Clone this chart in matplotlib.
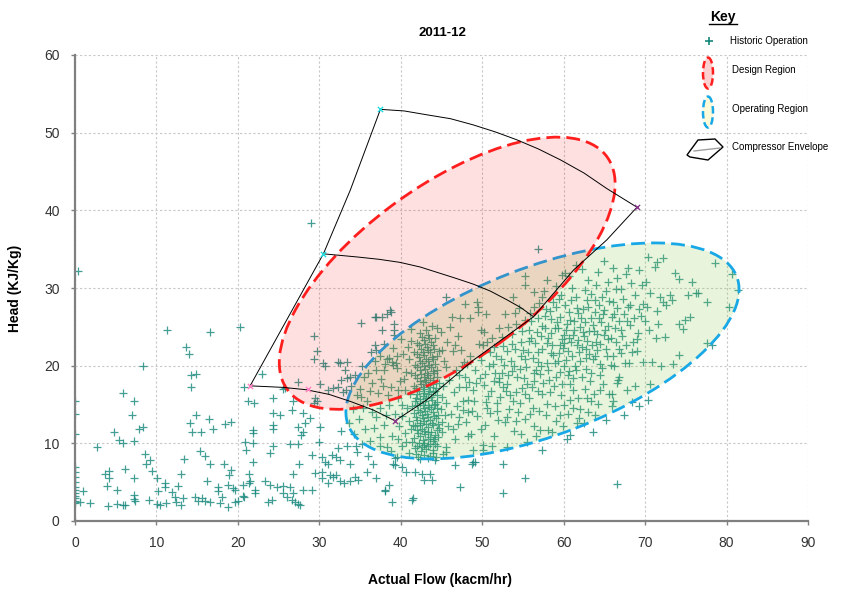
import numpy as np
import matplotlib
matplotlib.use("Agg")
import matplotlib.pyplot as plt
from matplotlib.patches import Ellipse, Polygon

plt.rcParams['font.family'] = ['Liberation Sans', 'DejaVu Sans']

TITLE = "2011-12"
X_LABEL = "Actual Flow (kacm/hr)"
Y_LABEL = "Head (KJ/Kg)"
X_TICKS = [0, 10, 20, 30, 40, 50, 60, 70, 80, 90]
Y_TICKS = [0, 10, 20, 30, 40, 50, 60]

KEY_LABELS = ["Historic Operation", "Design Region", "Operating Region", "Compressor Envelope"]

# historic operation points (flow, head)
low_flow = [
    (0.0, 0.0), (0.0, 2.3), (0.0, 2.6), (0.0, 2.9), (0.0, 3.2), (0.0, 3.6), (0.0, 4.0), (0.0, 4.4),
    (0.0, 5.0), (0.0, 5.7), (0.0, 6.3), (0.0, 7.0), (0.0, 11.2), (0.0, 13.8), (0.0, 15.5),
    (0.4, 32.2), (0.6, 2.4), (1.0, 3.8), (1.9, 2.3), (2.7, 9.5),
    (3.7, 6.1), (4.2, 6.5), (4.2, 5.5), (3.9, 4.5), (4.1, 1.9), (4.8, 11.4), (5.1, 2.2), (5.2, 4.0),
    (5.4, 10.4), (5.9, 10.0), (5.9, 2.0), (5.9, 16.5), (6.1, 2.0), (6.1, 6.7),
    (7.0, 13.7), (7.2, 10.3), (7.2, 5.6), (7.2, 3.3), (7.2, 2.8), (7.3, 15.4), (7.4, 2.6), (7.8, 11.9),
    (8.3, 20.0), (8.4, 12.1), (8.6, 8.6), (8.7, 7.4), (9.1, 2.7), (9.2, 7.9), (9.5, 6.4),
    (10.1, 5.6), (10.1, 2.2), (10.2, 3.8), (10.4, 2.0), (11.0, 4.4), (11.1, 4.9), (11.2, 2.3),
    (11.3, 24.6), (11.9, 3.7), (12.3, 3.1), (12.4, 2.4), (12.7, 4.5), (13.0, 6.1), (13.0, 2.0),
    (13.2, 2.9), (13.4, 8.0), (13.6, 22.4), (14.0, 21.5),
    (14.1, 12.6), (14.2, 17.3), (14.3, 18.8), (14.4, 11.4), (14.7, 3.1), (14.9, 18.9), (14.9, 13.6),
    (15.1, 2.6), (15.4, 9.0), (15.5, 11.5), (15.6, 2.9), (16.0, 8.4), (16.0, 2.6), (16.2, 5.2),
    (16.4, 13.1), (16.6, 24.3), (16.6, 7.4), (16.6, 2.5),
    (17.0, 11.8), (17.5, 4.4), (17.6, 3.9), (17.8, 2.3), (18.1, 3.1), (18.3, 7.4), (18.4, 12.5),
    (18.8, 1.8), (18.8, 4.6), (18.9, 5.9), (19.2, 12.7), (19.2, 6.6), (19.4, 4.2), (19.6, 4.0),
    (19.7, 2.4), (20.0, 2.6),
    (20.3, 25.0), (20.6, 3.2), (20.6, 4.6), (20.7, 3.1), (20.8, 17.2), (20.9, 10.2), (21.0, 9.1),
    (21.2, 15.5), (21.4, 6.1), (21.4, 4.9), (21.5, 5.1), (21.8, 11.7), (21.8, 11.3), (21.9, 10.0),
    (21.9, 7.6), (22.0, 15.2), (22.1, 4.0), (22.1, 3.6), (22.9, 18.9),
    (23.3, 5.1), (23.7, 2.5), (23.9, 4.6), (24.0, 8.7), (24.2, 2.7), (24.3, 15.9), (24.3, 13.9),
    (24.3, 12.4), (24.3, 11.9), (24.3, 9.7), (24.8, 4.4), (25.2, 13.6), (25.6, 17.0), (25.6, 4.5),
    (25.6, 3.6), (25.8, 17.1), (26.0, 3.1), (26.4, 9.9), (26.4, 4.4), (26.6, 14.3), (26.6, 2.7),
    (26.8, 15.5), (26.8, 6.1), (26.8, 3.6), (27.0, 2.5),
    (27.4, 17.9), (27.4, 12.1), (27.4, 9.9), (27.4, 2.2), (27.5, 7.4), (27.6, 2.1), (27.8, 11.1),
    (28.0, 13.9), (28.0, 11.5), (28.0, 4.0), (28.2, 12.6), (28.9, 13.2), (29.0, 38.4), (29.1, 8.5),
    (29.1, 4.0), (29.3, 23.8), (29.3, 20.8), (29.3, 15.2), (29.5, 15.8), (29.5, 6.2), (29.7, 21.9),
    (29.7, 15.4), (29.9, 10.2),
    (30.1, 17.7), (30.1, 12.1), (30.3, 8.3), (30.3, 6.3), (30.3, 5.5), (30.5, 20.3), (30.7, 20.0),
    (30.7, 7.6), (31.1, 16.9), (31.1, 7.4), (31.1, 4.9), (31.3, 5.9), (31.5, 8.5), (31.7, 17.1),
    (31.7, 5.7), (32.1, 8.3), (32.1, 5.9), (32.3, 20.5), (32.3, 17.3), (32.3, 9.4), (32.5, 20.3),
    (32.5, 7.9), (32.5, 5.1), (32.7, 18.2), (32.7, 11.6), (32.9, 16.6), (33.0, 4.9), (33.2, 19.4),
    (33.3, 16.9), (33.4, 20.5), (33.4, 18.4), (33.4, 9.6), (33.8, 18.6), (33.8, 7.4), (33.8, 5.1),
    (34.4, 5.7), (34.5, 9.6), (34.6, 8.9), (34.8, 5.3), (35.1, 25.5), (35.8, 6.3), (36.6, 7.4),
    (36.8, 26.3), (36.8, 22.7), (37.0, 26.3), (37.0, 22.0), (37.0, 5.5), (37.4, 21.2), (37.7, 26.3),
    (37.7, 24.6), (38.1, 3.8), (38.3, 20.9), (38.3, 26.7), (38.5, 4.6), (38.1, 4.0), (38.7, 27.2),
    (38.8, 26.9), (38.9, 20.5), (38.9, 2.5), (39.1, 20.1), (39.1, 7.4), (39.2, 25.4), (39.2, 24.6),
    (39.3, 8.1), (39.3, 7.2), (39.5, 19.7), (40.1, 7.0), (40.7, 6.3), (41.4, 2.7), (41.5, 2.9),
    (41.7, 6.3), (42.6, 6.1), (42.8, 5.3), (43.6, 6.1), (43.8, 5.3),
]

dense_column = [
    (42.1, 8.2), (42.8, 8.5), (43.3, 8.1), (43.9, 8.7), (42.5, 9.0), (43.1, 9.3), (44.0, 9.1), (41.8, 9.4),
    (42.9, 9.8), (43.6, 9.9), (44.4, 9.6), (42.2, 10.1), (42.7, 10.4), (43.3, 10.6), (43.9, 10.3),
    (44.6, 10.8), (41.6, 10.7), (42.4, 11.0), (43.0, 11.2), (43.7, 11.5), (44.2, 11.1), (45.0, 11.4),
    (42.0, 11.7), (42.6, 11.9), (43.4, 12.1), (44.0, 12.3), (44.7, 12.0), (41.5, 12.4), (42.3, 12.6),
    (42.9, 12.9), (43.6, 13.0), (44.3, 13.2), (45.1, 12.8), (41.9, 13.4), (42.6, 13.6), (43.2, 13.8),
    (43.9, 14.0), (44.6, 13.7), (42.1, 14.3), (42.8, 14.5), (43.5, 14.7), (44.1, 14.9), (44.9, 14.4),
    (41.4, 14.8), (42.4, 15.2), (43.0, 15.4), (43.8, 15.6), (44.5, 15.3), (41.9, 15.9), (42.7, 16.1),
    (43.3, 16.3), (44.0, 16.6), (45.0, 16.0), (42.2, 16.8), (42.9, 17.0), (43.6, 17.3), (44.3, 17.1),
    (41.6, 17.4), (42.5, 17.7), (43.1, 17.9), (43.9, 18.1), (44.7, 17.8), (42.0, 18.4), (42.8, 18.6),
    (43.4, 18.8), (44.1, 19.0), (41.3, 19.1), (42.3, 19.4), (43.0, 19.6), (43.7, 19.8), (44.5, 19.5),
    (41.8, 20.1), (42.6, 20.3), (43.3, 20.6), (44.0, 20.8), (42.2, 21.1), (42.9, 21.4), (43.6, 21.7),
    (44.4, 21.3), (41.6, 21.8), (42.5, 22.2), (43.2, 22.4), (43.9, 22.7), (42.0, 22.9), (42.8, 23.3),
    (43.5, 23.6), (42.4, 24.2), (43.1, 24.6), (43.8, 25.1), (42.7, 25.6),
    (40.2, 13.5), (40.8, 14.6), (39.6, 15.8), (40.5, 16.9), (39.9, 18.0), (40.7, 19.2), (39.4, 20.4),
    (40.3, 21.5), (39.0, 22.3), (40.0, 23.4), (38.5, 21.0), (38.0, 19.5), (37.6, 18.3), (38.8, 17.2),
    (37.2, 16.5), (36.5, 17.8), (36.0, 19.0), (36.8, 20.6), (35.5, 18.5), (35.0, 17.0), (34.6, 16.2),
    (35.8, 15.4), (37.4, 14.6), (38.6, 15.0), (36.4, 21.8), (37.9, 22.8), (39.2, 24.0), (35.2, 20.0),
    (34.4, 18.8), (45.5, 9.5), (45.8, 12.2), (46.2, 13.8), (45.6, 15.2), (46.5, 16.6), (45.9, 18.2),
    (46.8, 19.4), (45.3, 20.6), (46.4, 21.9), (45.7, 23.0), (44.9, 24.3), (46.0, 25.0), (47.0, 23.8),
    (47.4, 22.0), (47.8, 20.5), (47.2, 18.8), (48.0, 17.2), (47.6, 15.5), (48.3, 14.0), (47.0, 12.5),
    (46.6, 10.6), (45.2, 8.6), (44.2, 7.8), (41.0, 8.8), (40.6, 10.2), (41.2, 11.8), (39.8, 12.2),
    (38.9, 11.0), (40.1, 9.6), (39.5, 8.3), (38.3, 9.5), (37.5, 10.8), (36.7, 12.0), (36.2, 10.3),
    (35.6, 11.8), (37.0, 13.4),
]

dense_column_2 = [
    (41.9, 8.6), (42.4, 8.0), (43.6, 8.4), (44.3, 8.3), (42.0, 9.7), (42.6, 9.5), (43.4, 9.6), (44.2, 9.9),
    (41.4, 10.2), (42.9, 10.1), (43.6, 10.8), (44.1, 10.6), (42.1, 11.3), (42.8, 11.6), (43.4, 11.4),
    (44.5, 11.7), (41.8, 12.2), (42.4, 12.3), (43.1, 12.5), (43.8, 12.6), (44.6, 12.5), (42.0, 13.0),
    (42.7, 13.2), (43.4, 13.4), (44.1, 13.5), (41.6, 13.9), (42.4, 14.0), (43.0, 14.2), (43.7, 14.4),
    (44.4, 14.6), (42.0, 14.9), (42.7, 15.0), (43.3, 14.9), (44.2, 15.1), (41.7, 15.5), (42.3, 15.7),
    (43.1, 15.9), (43.7, 16.0), (44.5, 16.2), (42.0, 16.4), (42.8, 16.5), (43.5, 16.7), (44.2, 16.8),
    (41.9, 17.1), (42.7, 17.3), (43.3, 17.5), (44.0, 17.6), (42.3, 18.0), (43.0, 18.2), (43.6, 18.4),
    (44.4, 18.5), (41.7, 18.8), (42.5, 18.9), (43.2, 19.1), (43.9, 19.3), (42.0, 19.8), (42.8, 19.9),
    (43.5, 20.1), (44.2, 20.2), (42.4, 20.6), (43.1, 20.9), (43.8, 21.1), (42.0, 21.5), (42.7, 21.8),
    (43.4, 22.0), (44.1, 22.1), (42.2, 22.6), (43.0, 22.8), (43.7, 23.1), (42.6, 23.7), (43.3, 24.0),
    (44.2, 23.6), (41.2, 23.2), (41.0, 20.8), (41.1, 16.3), (45.4, 13.6), (45.2, 17.4), (45.6, 19.8),
    (45.0, 22.0), (44.7, 21.9), (40.4, 18.3), (40.9, 22.4), (41.3, 24.7), (44.5, 24.9), (39.7, 16.9),
    (40.2, 14.9), (41.0, 12.9), (40.5, 11.3), (39.3, 13.8), (38.4, 16.2), (37.8, 17.4), (38.1, 20.2),
    (39.5, 21.2), (36.9, 19.4), (36.2, 16.8), (35.4, 14.5), (34.9, 13.1), (36.5, 14.0), (37.9, 12.4),
    (38.2, 13.7), (39.6, 10.6), (38.8, 9.0), (37.4, 9.6), (36.0, 8.4), (35.3, 9.9), (34.2, 11.2),
    (33.6, 12.6), (34.1, 14.4), (35.1, 16.0), (33.9, 17.4),
]

main_cluster = [
    (46.4, 11.8), (46.9, 14.8), (47.2, 17.3), (47.5, 19.9), (46.7, 22.6), (47.9, 18.6), (48.2, 15.6),
    (48.6, 11.2), (48.9, 16.9), (49.1, 19.4), (48.5, 21.2), (49.4, 13.5), (49.6, 22.8), (49.8, 24.6),
    (48.8, 14.2), (49.2, 17.8), (50.2, 17.5), (50.4, 18.9), (50.7, 16.1), (50.3, 12.4), (50.9, 21.7),
    (50.2, 24.3), (50.6, 14.6), (50.8, 20.0),
    (51.0, 13.9), (51.2, 23.6), (51.3, 20.2), (51.5, 11.0), (51.8, 15.2), (52.0, 17.9), (52.0, 18.4),
    (52.0, 24.9), (52.4, 19.1), (52.6, 22.5), (52.8, 12.8), (52.8, 26.6), (52.9, 16.7), (53.0, 21.9),
    (53.3, 14.4), (53.5, 20.6), (53.7, 24.1), (53.8, 15.5), (53.9, 11.6), (54.2, 25.4), (54.3, 18.5),
    (54.4, 14.0), (54.5, 27.4), (54.7, 21.3), (54.8, 23.0), (54.9, 17.1), (51.6, 19.0), (52.3, 20.9),
    (53.1, 17.6), (53.6, 19.3), (54.0, 22.2), (51.9, 13.0),
    (55.0, 22.0), (55.2, 13.1), (55.4, 19.8), (55.7, 24.6), (55.8, 15.9), (55.9, 26.8), (56.0, 25.8),
    (56.2, 21.0), (56.2, 14.6), (56.4, 12.2), (56.4, 27.6), (56.5, 22.9), (56.6, 19.5), (56.9, 16.8),
    (57.0, 28.1), (57.1, 18.9), (57.3, 25.1), (57.4, 22.1), (57.5, 17.8), (57.6, 29.6), (57.8, 13.6),
    (57.9, 20.3), (57.9, 15.1), (58.0, 31.0), (58.1, 23.5), (58.2, 18.2), (58.3, 27.0), (58.5, 26.0),
    (55.5, 17.6), (56.0, 23.5), (56.8, 20.5), (57.2, 23.8), (57.7, 26.4), (58.4, 21.6), (55.3, 20.8),
    (56.3, 18.0),
    (58.6, 11.5), (58.7, 21.4), (58.8, 17.4), (58.9, 24.8), (59.0, 30.2), (59.1, 12.9), (59.2, 25.6),
    (59.4, 28.6), (59.5, 19.2), (59.6, 22.7), (59.7, 16.2), (59.9, 22.3), (60.0, 24.0), (60.1, 14.9),
    (60.2, 27.8), (60.3, 20.7), (60.4, 25.4), (60.5, 13.8), (60.6, 26.9), (60.7, 19.3), (60.7, 31.6),
    (60.8, 17.7), (61.0, 30.0), (61.1, 18.4), (61.2, 23.9), (61.5, 28.9), (61.6, 22.6), (61.7, 15.8),
    (61.9, 21.8), (61.9, 13.2), (59.3, 20.6), (59.8, 23.4), (60.5, 21.9), (61.3, 25.7), (61.8, 26.8),
    (59.0, 27.5), (60.9, 23.0), (61.4, 20.0),
    (62.0, 25.0), (62.0, 14.4), (62.2, 32.4), (62.2, 22.4), (62.4, 27.3), (62.4, 24.3), (62.5, 12.6),
    (62.6, 17.0), (62.8, 19.6), (62.9, 23.2), (62.9, 28.4), (63.0, 14.0), (63.0, 31.0), (63.2, 18.0),
    (63.3, 26.1), (63.4, 29.2), (63.6, 20.9), (63.7, 16.3), (63.7, 24.5), (64.0, 23.0), (64.1, 22.0),
    (64.2, 15.1), (64.2, 32.0), (64.3, 27.8), (64.5, 18.8), (64.6, 25.6), (64.8, 17.6), (64.8, 26.6),
    (65.0, 33.5), (65.2, 29.6), (65.3, 21.3), (65.4, 23.4), (65.5, 30.8), (65.6, 16.4), (65.8, 20.1),
    (65.9, 26.3), (63.1, 21.5), (63.9, 26.9), (64.4, 20.2), (62.7, 21.0), (65.1, 24.6), (64.7, 28.9),
    (66.0, 15.4), (66.0, 32.6), (66.1, 28.2), (66.2, 19.9), (66.3, 24.9), (66.6, 17.8), (66.6, 31.3),
    (66.8, 18.6), (66.8, 25.7), (67.0, 29.9), (67.1, 21.6), (67.2, 23.8), (67.6, 31.8), (67.7, 22.6),
    (67.8, 16.9), (67.9, 27.5), (68.0, 20.4), (68.1, 25.3), (68.3, 30.6), (68.7, 17.4), (68.8, 29.1),
    (69.0, 21.9), (69.1, 24.2), (69.2, 32.3), (69.7, 28.0), (70.0, 25.8), (70.1, 30.8), (70.6, 29.4),
    (71.3, 23.6), (71.5, 27.0), (67.4, 26.6), (68.5, 23.0), (69.5, 26.4),
]

main_cluster_2 = [
    (47.7, 14.3), (48.4, 17.9), (48.1, 20.2), (49.0, 15.5), (49.7, 18.4), (49.9, 20.7), (50.5, 15.3),
    (50.1, 22.6), (51.1, 16.8), (51.4, 18.0), (51.7, 21.3), (51.8, 14.1), (52.2, 16.0), (52.5, 17.2),
    (52.7, 20.1), (53.2, 18.8), (53.4, 16.2), (53.6, 22.8), (53.9, 20.0), (54.1, 16.6), (54.6, 19.6),
    (54.6, 15.2), (54.9, 24.5), (55.1, 18.4), (55.3, 16.4), (55.6, 21.7), (55.8, 23.2), (56.1, 17.2),
    (56.3, 19.0), (56.7, 24.3), (56.9, 21.8), (57.2, 20.0), (57.4, 16.4), (57.7, 24.9), (57.9, 22.9),
    (58.1, 19.4), (58.3, 16.6), (58.5, 24.2), (58.6, 22.7), (58.9, 20.3), (59.1, 18.5), (59.3, 24.9),
    (59.4, 21.6), (59.6, 26.3), (59.8, 17.6), (60.0, 20.0), (60.1, 22.9), (60.3, 24.6), (60.5, 18.8),
    (60.6, 23.5), (60.8, 25.9), (61.0, 21.2), (61.2, 16.9), (61.3, 24.6), (61.5, 19.4), (61.6, 27.4),
    (61.8, 23.3), (62.0, 20.6), (62.1, 26.1), (62.3, 18.6), (62.5, 23.8), (62.6, 25.6), (62.8, 22.2),
    (63.0, 27.5), (63.1, 24.4), (63.3, 19.1), (63.5, 22.7), (63.6, 25.3), (63.8, 28.4), (63.9, 21.3),
    (64.1, 24.1), (64.3, 26.2), (64.5, 22.8), (64.7, 19.7), (64.9, 24.0), (65.0, 27.2), (65.2, 22.2),
    (65.4, 25.1), (65.6, 28.3), (65.8, 23.6), (66.0, 21.3), (66.2, 26.6), (66.4, 23.0), (66.6, 27.4),
    (66.8, 22.2), (67.0, 24.6), (67.3, 28.6), (67.5, 20.3), (67.8, 25.8), (68.2, 27.8), (68.4, 21.8),
    (68.6, 26.2), (69.0, 23.4), (69.3, 27.3), (69.6, 30.4), (70.2, 27.5), (70.5, 24.6), (60.9, 28.5),
    (59.7, 29.1), (58.7, 28.2), (62.6, 29.8), (64.0, 30.4), (66.4, 29.9), (67.9, 32.6), (57.8, 27.3),
    (56.8, 26.2), (55.2, 25.9), (54.0, 26.8), (53.2, 25.0), (52.4, 23.7), (51.5, 22.4), (50.6, 23.0),
    (57.0, 14.1), (58.9, 14.8), (60.8, 15.6), (62.9, 15.9), (64.4, 16.9), (59.5, 13.6), (55.9, 13.8),
    (54.2, 12.9), (53.0, 13.4), (49.8, 11.8), (48.0, 12.8), (63.8, 13.7), (61.2, 14.6), (56.6, 10.9),
    (54.7, 11.2), (51.2, 9.6), (59.9, 12.2),
]

outer_points = [
    (45.6, 28.9), (46.3, 26.3), (47.3, 26.1), (47.9, 28.0), (48.5, 26.1), (49.3, 28.2), (49.5, 27.6),
    (49.5, 26.9), (50.5, 26.7), (53.8, 28.9), (55.3, 30.4), (55.3, 31.5), (56.3, 29.5), (56.9, 35.0),
    (57.3, 28.9), (59.8, 31.7), (60.2, 31.9), (61.5, 33.0),
    (45.6, 8.9), (46.7, 7.2), (47.1, 13.4), (47.3, 4.4), (48.3, 10.9), (48.7, 7.4), (48.9, 7.6),
    (48.9, 9.1), (49.1, 7.6), (50.1, 9.1), (50.1, 9.8), (52.6, 7.4), (52.6, 3.6), (53.0, 9.5),
    (55.3, 5.6), (55.5, 10.2), (57.1, 11.7), (57.3, 9.1), (58.1, 11.7), (60.4, 10.6), (60.8, 11.1),
    (61.6, 12.6), (63.4, 15.4), (63.6, 11.5), (65.2, 13.0), (65.9, 14.8), (65.9, 16.4), (66.5, 4.8),
    (66.7, 18.2), (67.4, 13.6), (68.4, 15.3), (69.2, 14.8), (69.8, 20.5), (70.4, 15.6), (70.6, 17.6),
    (70.8, 20.5), (72.0, 19.9), (73.4, 20.2), (74.2, 21.4), (77.6, 22.9), (78.2, 22.7), (72.4, 23.7),
    (71.6, 25.4), (74.1, 25.4), (74.7, 24.7), (74.9, 25.9), (75.5, 26.3),
    (70.4, 34.0), (71.2, 32.7), (71.4, 33.4), (72.2, 33.9), (73.7, 31.9), (74.1, 31.2), (75.7, 30.8),
    (76.3, 29.3), (75.3, 29.1), (76.5, 29.3), (77.6, 28.2), (73.1, 29.1), (73.3, 28.5), (71.8, 28.9),
    (72.2, 28.2), (72.6, 27.8), (78.6, 33.2), (80.7, 31.8), (81.4, 29.8), (80.3, 27.6),
]

# compressor envelope edges (flow, head)
env_top = [(37.5, 53.0), (40.4, 52.8), (43.2, 52.3), (46.1, 51.8), (48.9, 51.0), (51.6, 50.1),
           (54.2, 49.1), (56.9, 47.9), (59.6, 46.5), (62.5, 44.8), (65.3, 42.8), (69.0, 40.4)]
env_mid = [(30.5, 34.4), (34.6, 34.0), (37.3, 33.7), (39.9, 33.3), (42.4, 32.7), (44.8, 31.9),
           (46.9, 31.2), (48.9, 30.5), (51.0, 29.6), (53.0, 28.5), (54.7, 27.5), (56.3, 26.3)]
env_bottom = [(21.5, 17.4), (23.6, 17.3), (25.6, 17.2), (28.4, 16.9), (31.2, 16.3), (33.8, 15.4),
              (36.6, 14.3), (39.3, 12.9)]
env_left = [(21.5, 17.4), (26.0, 25.9), (30.5, 34.4), (33.8, 42.6), (37.5, 53.0)]
env_right = [(39.3, 12.9), (43.2, 15.6), (48.9, 20.7), (56.3, 26.3), (61.2, 32.3), (65.3, 36.2), (69.0, 40.4)]
env_corner_cyan = [(37.5, 53.0), (30.5, 34.4)]
env_corner_purple = [(69.0, 40.4), (39.3, 12.9)]
env_corner_pink = [(21.5, 17.4), (28.6, 17.0)]

# regions: centre (flow, head), width, height, angle
design_center = (45.7, 31.9)
design_size = (49.4, 22.1)
design_angle = 38
operating_center = (57.4, 21.9)
operating_size = (51.4, 21.5)
operating_angle = 22.2

PT_COLOR = '#14877c'
RED = '#ff1e1e'
BLUE = '#18a8e6'

fig = plt.figure(figsize=(8.42, 5.89), dpi=100)
ax = fig.add_axes([75 / 842, 68 / 589, 733 / 842, 466 / 589])

pts = np.array(low_flow + dense_column + dense_column_2 + main_cluster + main_cluster_2 + outer_points)
ax.scatter(pts[:, 0], pts[:, 1], marker='+', s=32, c=PT_COLOR, linewidths=0.9, alpha=0.8, zorder=2)

op = Ellipse(operating_center, operating_size[0], operating_size[1], angle=operating_angle,
             facecolor=(0.55, 0.8, 0.3, 0.2), edgecolor=BLUE, lw=2.0,
             linestyle=(0, (5, 2.2)), zorder=3)
ax.add_patch(op)
de = Ellipse(design_center, design_size[0], design_size[1], angle=design_angle,
             facecolor=(1.0, 0.0, 0.0, 0.12), edgecolor=RED, lw=2.0,
             linestyle=(0, (5, 2.2)), zorder=3)
ax.add_patch(de)

for edge in [env_top, env_mid, env_bottom, env_left, env_right]:
    e = np.array(edge)
    ax.plot(e[:, 0], e[:, 1], color='black', lw=0.7, zorder=4)
for corners, col in [(env_corner_cyan, '#22dddd'), (env_corner_purple, '#8a3a8a'), (env_corner_pink, '#ff80c0')]:
    c = np.array(corners)
    ax.scatter(c[:, 0], c[:, 1], marker='x', s=14, c=col, linewidths=1.0, zorder=5)

ax.set_xlim(0, 90)
ax.set_ylim(0, 60)
ax.set_xticks(X_TICKS)
ax.set_yticks(Y_TICKS)
ax.grid(True, color='#c8c8c8', linestyle=(0, (2, 2)), lw=0.8)
ax.set_axisbelow(True)
for s in ['top', 'right']:
    ax.spines[s].set_visible(False)
for s in ['left', 'bottom']:
    ax.spines[s].set_color('#808080')
    ax.spines[s].set_linewidth(1.6)
ax.tick_params(axis='both', colors='#808080', labelcolor='#333333', labelsize=10, length=3, width=1)
ax.tick_params(axis='y', pad=8)
ax.tick_params(axis='x', pad=8)

ax.set_xlabel(X_LABEL, fontsize=10, fontweight='bold')
ax.set_ylabel(Y_LABEL, fontsize=10, fontweight='bold')
ax.xaxis.set_label_coords(0.498, -0.112)
ax.yaxis.set_label_coords(-0.072, 0.5)

fig.text(442 / 842, 1 - 33 / 589, TITLE, ha='center', va='center', fontsize=9.5, fontweight='bold')

# key, drawn in its own pixel-like box
kx = fig.add_axes([680 / 842, 1 - 170 / 589, 162 / 842, 170 / 589])
kx.set_xlim(0, 162)
kx.set_ylim(170, 0)
kx.axis('off')
kx.patch.set_alpha(0)
kx.text(43, 17, "Key", ha='center', va='center', fontsize=10, fontweight='bold')
kx.plot([29, 57], [24, 24], color='black', lw=1)
kx.scatter([29], [41], marker='+', s=30, c=PT_COLOR, linewidths=1.2)
kx.add_patch(Ellipse((28, 73), 10, 31, facecolor='#ffd0d0', edgecolor=RED, lw=1.8,
                     linestyle=(0, (3, 1.5))))
kx.add_patch(Ellipse((28, 112), 10, 31, facecolor='#fffbd8', edgecolor=BLUE, lw=1.8,
                     linestyle=(0, (3, 1.5))))
kx.add_patch(Polygon([(7, 155), (18, 140), (35, 139), (43, 147), (28, 160), (10, 157)],
                     closed=True, facecolor='white', edgecolor='black', lw=1.0))
kx.plot([14, 40], [151, 148], color='#a0a0a0', lw=1)
for label, ty in zip(KEY_LABELS, [41, 70, 109, 147]):
    kx.text(52 if ty > 41 else 50, ty, label, ha='left', va='center', fontsize=7)

fig.savefig('out.png', dpi=100)
